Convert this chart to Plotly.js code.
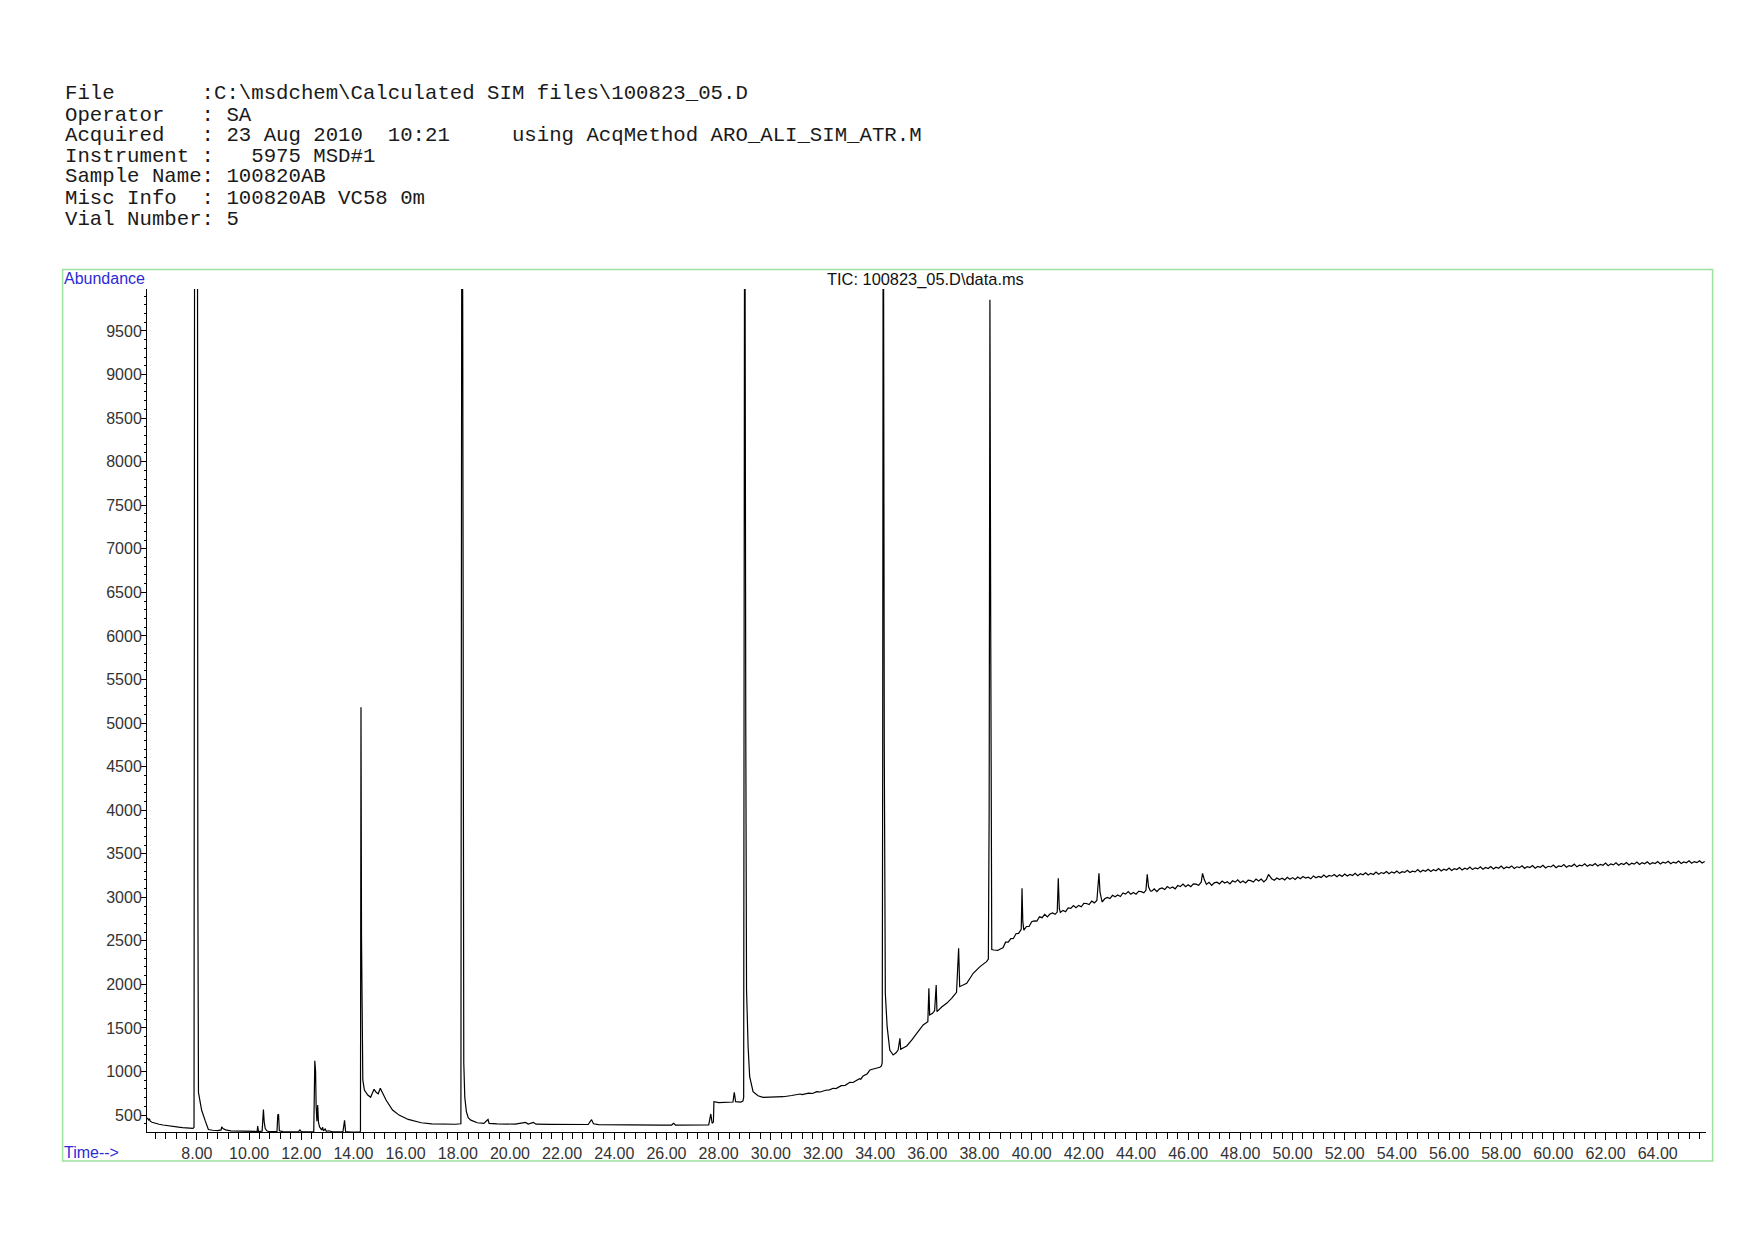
<!DOCTYPE html>
<html>
<head>
<meta charset="utf-8">
<script src="https://cdn.plot.ly/plotly-3.0.1.min.js"></script>
<style>
  html, body { margin: 0; padding: 0; background: #ffffff; }
  #chart { width: 1754px; height: 1240px; }
</style>
</head>
<body>
<div id="chart"></div>
<script>
// ---- Header text (sample information) ----
const headerLines = [
  "File       :C:\\msdchem\\Calculated SIM files\\100823_05.D",
  "Operator   : SA",
  "Acquired   : 23 Aug 2010  10:21     using AcqMethod ARO_ALI_SIM_ATR.M",
  "Instrument :   5975 MSD#1",
  "Sample Name: 100820AB",
  "Misc Info  : 100820AB VC58 0m",
  "Vial Number: 5"
];
const chartTitle = "TIC: 100823_05.D\\data.ms";
const yAxisLabel = "Abundance";
const xAxisLabel = "Time-->";

// ---- Chromatogram: retention time (min) ----
const time = [
  6.09, 6.12, 6.15, 6.18, 6.21, 6.28, 6.4, 6.55, 6.7, 6.85,
  7.0, 7.15, 7.3, 7.45, 7.6, 7.75, 7.85, 7.89, 7.91, 7.915,
  7.97, 8.02, 8.035, 8.045, 8.06, 8.1, 8.18, 8.31, 8.44, 8.6,
  8.8, 8.93, 8.95, 9.0, 9.1, 9.3, 9.6, 9.9, 10.2, 10.31,
  10.33, 10.36, 10.5, 10.53, 10.55, 10.58, 10.62, 10.68, 10.75, 10.9,
  11.07, 11.1, 11.13, 11.16, 11.3, 11.6, 11.9, 11.95, 12.0, 12.3,
  12.48, 12.52, 12.55, 12.57, 12.6, 12.63, 12.66, 12.7, 12.74, 12.78,
  12.82, 12.85, 12.92, 12.96, 13.05, 13.2, 13.4, 13.6, 13.66, 13.7,
  13.9, 14.1, 14.25, 14.27, 14.29, 14.31, 14.33, 14.36, 14.42, 14.55,
  14.66, 14.74, 14.79, 14.88, 14.95, 15.03, 15.1, 15.25, 15.5, 15.75,
  16.1, 16.6, 17.0, 17.5, 17.9, 18.12, 18.14, 18.16, 18.19, 18.205,
  18.23, 18.27, 18.33, 18.4, 18.5, 18.75, 19.0, 19.16, 19.2, 19.5,
  19.8, 20.2, 20.6, 20.7, 20.9, 21.0, 21.5, 22.0, 22.5, 23.0,
  23.13, 23.2, 23.4, 23.8, 24.3, 24.8, 25.3, 25.8, 26.2, 26.27,
  26.35, 27.0, 27.4, 27.62, 27.7, 27.75, 27.8, 27.82, 28.0, 28.3,
  28.55, 28.6, 28.65, 28.85, 28.93, 28.96, 28.98, 29.0, 29.04, 29.06,
  29.07, 29.13, 29.19, 29.32, 29.51, 29.7, 30.0, 30.25, 30.48, 30.8,
  31.0, 31.12, 31.2, 31.3, 31.45, 31.6, 31.76, 31.9, 32.1, 32.25,
  32.39, 32.5, 32.7, 32.85, 33.03, 33.15, 33.3, 33.4, 33.45, 33.5,
  33.54, 33.7, 33.8, 34.0, 34.18, 34.24, 34.27, 34.29, 34.31, 34.35,
  34.37, 34.39, 34.46, 34.56, 34.69, 34.8, 34.88, 34.95, 34.98, 35.21,
  35.4, 35.59, 35.84, 36.02, 36.06, 36.09, 36.2, 36.28, 36.34, 36.37,
  36.55, 36.74, 36.93, 37.12, 37.2, 37.24, 37.51, 37.76, 38.02, 38.27,
  38.34, 38.37, 38.4, 38.43, 38.45, 38.47, 38.55, 38.7,
  38.8, 38.9, 39.0, 39.1, 39.2, 39.3, 39.4, 39.5, 39.6, 39.63,
  39.66, 39.7, 39.8, 39.9, 40.0, 40.1, 40.2, 40.3, 40.4, 40.5,
  40.6, 40.7, 40.8, 40.9, 40.98, 41.02, 41.06, 41.1, 41.2, 41.3,
  41.4, 41.5, 41.6, 41.7, 41.8, 41.9, 42.0, 42.1, 42.2, 42.3,
  42.4, 42.5, 42.58, 42.62, 42.7, 42.8, 42.9, 43.0, 43.1, 43.2,
  43.3, 43.4, 43.5, 43.6, 43.7, 43.8, 43.9, 44.0, 44.1, 44.2,
  44.3, 44.38, 44.43, 44.48, 44.55, 44.6, 44.7, 44.8, 44.9, 45.0,
  45.1, 45.2, 45.3, 45.4, 45.5, 45.6, 45.7, 45.8, 45.9, 46.0,
  46.1, 46.2, 46.3, 46.4, 46.5, 46.55, 46.62, 46.7, 46.8, 46.9,
  47.0, 47.1, 47.2, 47.3, 47.4, 47.5, 47.6, 47.7, 47.8, 47.9,
  48.0, 48.1, 48.2, 48.3, 48.4, 48.5, 48.6, 48.7, 48.8, 48.9,
  49.0, 49.08, 49.2, 49.3, 49.4, 49.5, 49.6, 49.7, 49.8, 49.9,
  50.0, 50.1, 50.2, 50.3, 50.4, 50.5, 50.6, 50.7, 50.8, 50.9,
  51.0, 51.1, 51.2, 51.3, 51.4, 51.5, 51.6, 51.7, 51.8, 51.9,
  52.0, 52.1, 52.2, 52.3, 52.4, 52.5, 52.6, 52.7, 52.8, 52.9,
  53.0, 53.1, 53.2, 53.3, 53.4, 53.5, 53.6, 53.7, 53.8, 53.9,
  54.0, 54.1, 54.2, 54.3, 54.4, 54.5, 54.6, 54.7, 54.8, 54.9,
  55.0, 55.1, 55.2, 55.3, 55.4, 55.5, 55.6, 55.7, 55.8, 55.9,
  56.0, 56.1, 56.2, 56.3, 56.4, 56.5, 56.6, 56.7, 56.8, 56.9,
  57.0, 57.1, 57.2, 57.3, 57.4, 57.5, 57.6, 57.7, 57.8, 57.9,
  58.0, 58.1, 58.2, 58.3, 58.4, 58.5, 58.6, 58.7, 58.8, 58.9,
  59.0, 59.1, 59.2, 59.3, 59.4, 59.5, 59.6, 59.7, 59.8, 59.9,
  60.0, 60.1, 60.2, 60.3, 60.4, 60.5, 60.6, 60.7, 60.8, 60.9,
  61.0, 61.1, 61.2, 61.3, 61.4, 61.5, 61.6, 61.7, 61.8, 61.9,
  62.0, 62.1, 62.2, 62.3, 62.4, 62.5, 62.6, 62.7, 62.8, 62.9,
  63.0, 63.1, 63.2, 63.3, 63.4, 63.5, 63.6, 63.7, 63.8, 63.9,
  64.0, 64.1, 64.2, 64.3, 64.4, 64.5, 64.6, 64.7, 64.8, 64.9,
  65.0, 65.1, 65.2, 65.3, 65.4, 65.5, 65.6, 65.7, 65.8
];

// ---- Chromatogram: total ion current abundance ----
const abundance = [
  468, 450, 444, 458, 430, 418, 405, 395, 386, 378,
  372, 366, 361, 356, 352, 349, 347, 360, 9780, 13000,
  13000, 13000, 3300, 1300, 760, 692, 558, 442, 335, 326,
  322, 330, 365, 345, 330, 320, 316, 312, 310, 312,
  373, 310, 315, 450, 565, 420, 346, 320, 312, 310,
  312, 500, 510, 320, 310, 308, 312, 330, 310, 308,
  310, 1123, 1000, 600, 430, 615, 420, 365, 350, 330,
  360, 320, 340, 315, 320, 308, 308, 312, 440, 310,
  305, 305, 306, 320, 5180, 2540, 1230, 904, 788, 731,
  704, 760, 796, 758, 745, 808, 760, 673, 558, 500,
  450, 412, 400, 396, 395, 400, 4400, 13000, 9720, 2200,
  1100, 700, 540, 470, 442, 412, 405, 450, 405, 400,
  398, 396, 415, 398, 415, 396, 394, 394, 393, 392,
  448, 400, 390, 388, 386, 385, 385, 384, 386, 405,
  386, 386, 388, 387, 513, 406, 420, 654, 643, 645,
  650, 762, 654, 650, 660, 700, 4800, 13000, 5000, 2400,
  1936, 1285, 941, 769, 722, 704, 706, 712, 711, 725,
  732, 742, 736, 745, 752, 748, 769, 765, 785, 790,
  808, 805, 838, 842, 877, 874, 905, 918, 912, 935,
  949, 975, 1018, 1035, 1049, 1064, 1100, 4700, 13000, 4700,
  2200, 1898, 1515, 1247, 1190, 1215, 1247, 1382, 1255, 1293,
  1360, 1439, 1534, 1572, 1955, 1649, 1668, 1700, 1993, 1687,
  1740, 1783, 1840, 1910, 2415, 1974, 2013, 2128, 2204, 2261,
  2290, 4000, 9860, 6100, 2950, 2400, 2395, 2390,
  2407, 2420, 2485, 2485, 2526, 2527, 2582, 2586, 2632, 3103,
  2720, 2623, 2665, 2665, 2720, 2729, 2727, 2776, 2766, 2804,
  2774, 2808, 2820, 2804, 2830, 3218, 2870, 2826, 2850, 2835,
  2879, 2873, 2906, 2881, 2907, 2891, 2930, 2929, 2917, 2956,
  2936, 2964, 3275, 3060, 2946, 2983, 2998, 2985, 3023, 3006,
  3027, 3009, 3050, 3037, 3065, 3035, 3056, 3035, 3069, 3065,
  3051, 3080, 3264, 3120, 3072, 3070, 3096, 3064, 3097, 3107,
  3089, 3123, 3102, 3119, 3097, 3135, 3122, 3151, 3121, 3143,
  3121, 3155, 3151, 3137, 3173, 3275, 3200, 3148, 3171, 3137,
  3166, 3174, 3154, 3186, 3163, 3178, 3154, 3189, 3174, 3200,
  3168, 3187, 3164, 3196, 3191, 3175, 3210, 3186, 3210, 3176,
  3206, 3262, 3213, 3195, 3222, 3204, 3218, 3200, 3230, 3208,
  3226, 3205, 3232, 3214, 3238, 3220, 3230, 3212, 3245, 3225,
  3240, 3228, 3255, 3230, 3250, 3242, 3262, 3236, 3258, 3240,
  3268, 3245, 3262, 3250, 3276, 3248, 3270, 3258, 3282, 3255,
  3275, 3262, 3290, 3264, 3284, 3272, 3296, 3270, 3292, 3278,
  3302, 3275, 3294, 3286, 3310, 3284, 3300, 3292, 3318, 3290,
  3310, 3298, 3322, 3296, 3316, 3304, 3330, 3302, 3322, 3310,
  3336, 3308, 3328, 3318, 3342, 3314, 3334, 3322, 3346, 3318,
  3338, 3326, 3350, 3322, 3342, 3330, 3354, 3326, 3346, 3334,
  3358, 3328, 3348, 3338, 3360, 3330, 3350, 3340, 3362, 3332,
  3352, 3342, 3364, 3334, 3354, 3345, 3368, 3336, 3356, 3348,
  3370, 3340, 3360, 3352, 3376, 3346, 3364, 3356, 3380, 3350,
  3368, 3360, 3384, 3355, 3374, 3364, 3388, 3360, 3378, 3368,
  3392, 3362, 3384, 3372, 3396, 3368, 3388, 3376, 3400, 3372,
  3392, 3380, 3404, 3376, 3396, 3384, 3408, 3380, 3398, 3388,
  3410, 3382, 3402, 3392, 3414, 3386, 3404, 3394, 3416, 3388,
  3406, 3396, 3418, 3390, 3410, 3398, 3420, 3394, 3412
];

// ---- Axis tick settings ----
const xTickStart = 8;
const xTickStep = 2;
const xMinorStep = 0.4;
const yTickStep = 500;
const yMinorStep = 100;

if (time.length !== abundance.length) {
  console.error("length mismatch", time.length, abundance.length);
}

// ---- Page geometry (pixels) ----
const W = 1754, H = 1240;
const M = { l: 147, r: 48, t: 289, b: 108 };
const PW = W - M.l - M.r, PH = H - M.t - M.b;
const px = x => (x - M.l) / PW;        // page x -> paper x
const py = y => (H - M.b - y) / PH;    // page y -> paper y
const nb = s => s.replace(/ /g, "\u00A0");

const sansFont = "Liberation Sans, Arial, sans-serif";
const monoFont = "Liberation Mono, Courier New, monospace";
const blue = "#2b2bd6";

const headerY = [94, 115.3, 135.4, 156.7, 176.8, 198.1, 219.3];
const annotations = headerLines.map((s, i) => ({
  text: nb(s), xref: "paper", yref: "paper",
  x: px(62.5), y: py(headerY[i]), xanchor: "left", yanchor: "middle",
  showarrow: false, font: { family: monoFont, size: 20.7, color: "#1a1a1a" }
}));
annotations.push({
  text: yAxisLabel, xref: "paper", yref: "paper", x: px(62), y: py(278.5),
  xanchor: "left", yanchor: "middle", showarrow: false,
  font: { family: sansFont, size: 16, color: blue }
});
annotations.push({
  text: xAxisLabel, xref: "paper", yref: "paper", x: px(62), y: py(1152),
  xanchor: "left", yanchor: "middle", showarrow: false,
  font: { family: sansFont, size: 16, color: blue }
});
annotations.push({
  text: chartTitle, xref: "paper", yref: "paper", x: px(925), y: py(279.5),
  xanchor: "center", yanchor: "middle", showarrow: false,
  font: { family: sansFont, size: 16.4, color: "#111111" }
});

const trace = {
  x: time, y: abundance, type: "scatter", mode: "lines",
  line: { color: "#000000", width: 1.2 },
  hoverinfo: "skip"
};

const tickFont = { family: sansFont, size: 16, color: "#333333" };

const layout = {
  width: W, height: H,
  margin: M,
  paper_bgcolor: "#ffffff", plot_bgcolor: "#ffffff",
  showlegend: false,
  font: { family: sansFont },
  xaxis: {
    range: [6.087, 65.85],
    showline: true, linecolor: "#000000", linewidth: 1,
    showgrid: false, zeroline: false,
    ticks: "outside", ticklen: 7, tickwidth: 1, tickcolor: "#000000",
    tick0: xTickStart, dtick: xTickStep, tickformat: ".2f",
    tickfont: tickFont,
    minor: { ticks: "outside", tick0: xTickStart, dtick: xMinorStep, ticklen: 6, tickwidth: 1, tickcolor: "#000000", showgrid: false }
  },
  yaxis: {
    range: [306, 9982],
    showline: true, linecolor: "#000000", linewidth: 1,
    showgrid: false, zeroline: false,
    ticks: "outside", ticklen: 5, tickwidth: 1, tickcolor: "#000000",
    ticklabelstandoff: -4,
    tick0: 0, dtick: yTickStep, tickformat: "d",
    tickfont: tickFont,
    minor: { ticks: "outside", tick0: 0, dtick: yMinorStep, ticklen: 2, tickwidth: 1, tickcolor: "#000000", showgrid: false }
  },
  shapes: [{
    type: "rect", xref: "paper", yref: "paper",
    x0: px(62.6), x1: px(1712.6), y0: py(1161), y1: py(269.6),
    line: { color: "#9ee09e", width: 1.5 }, fillcolor: "rgba(0,0,0,0)", layer: "below"
  }],
  annotations: annotations
};

Plotly.newPlot("chart", [trace], layout, { displayModeBar: false, staticPlot: true });
</script>
</body>
</html>
